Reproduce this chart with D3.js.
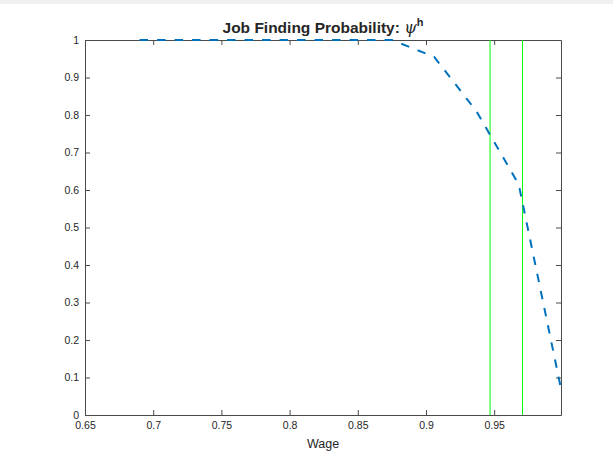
<!DOCTYPE html>
<html>
<head>
<meta charset="utf-8">
<script src="https://cdn.jsdelivr.net/npm/d3@7/dist/d3.min.js"></script>
<style>
  html, body { margin: 0; padding: 0; background: #ffffff; }
  svg { display: block; }
  text { font-family: "Liberation Sans", Arial, Helvetica, sans-serif; fill: #262626; }
</style>
</head>
<body>
<script>
// Wage grid and the job finding probability at each wage
const wage = [0.69, 0.721, 0.752, 0.783, 0.814, 0.845, 0.875, 0.906, 0.937, 0.968, 0.999];
const prob = [1, 1, 1, 1, 1, 1, 1, 0.955, 0.81, 0.615, 0.07];

// Reference wages marked with vertical lines
const markers = [0.947, 0.9708];

const xTicks = [0.65, 0.7, 0.75, 0.8, 0.85, 0.9, 0.95];
const yTicks = [0, 0.1, 0.2, 0.3, 0.4, 0.5, 0.6, 0.7, 0.8, 0.9, 1];

const W = 613, H = 464;
const box = { left: 85, right: 561, top: 40, bottom: 415 };

const svg = d3.select("body").append("svg").attr("width", W).attr("height", H);

// thin grey strip along the top of the window
svg.append("rect").attr("x", 0).attr("y", 0).attr("width", W).attr("height", 4).attr("fill", "#f0f0f0");

const x = d3.scaleLinear().domain([0.65, 0.999]).range([box.left, box.right]);
const y = d3.scaleLinear().domain([0, 1]).range([box.bottom, box.top]);

const axisColor = "#4a4a4a";
const tickLen = 5;

function styleAxis(g) {
  g.select(".domain").attr("stroke", axisColor).attr("stroke-width", 1);
  g.selectAll(".tick line").attr("stroke", axisColor).attr("stroke-width", 1);
  g.selectAll(".tick text").attr("fill", "#262626").attr("font-size", 10.5);
}

// bottom axis with labels, ticks pointing inward
const gx = svg.append("g").attr("transform", `translate(0,${box.bottom})`)
  .call(d3.axisBottom(x).tickValues(xTicks).tickFormat(d3.format("")).tickSizeInner(-tickLen).tickSizeOuter(0).tickPadding(8));
styleAxis(gx);
gx.selectAll(".tick text").attr("dy", "0.71em").attr("y", 7);

// top axis, ticks only
const gxt = svg.append("g").attr("transform", `translate(0,${box.top})`)
  .call(d3.axisTop(x).tickValues(xTicks).tickFormat("").tickSizeInner(-tickLen).tickSizeOuter(0));
styleAxis(gxt);

// left axis with labels
const gy = svg.append("g").attr("transform", `translate(${box.left},0)`)
  .call(d3.axisLeft(y).tickValues(yTicks).tickFormat(d3.format("")).tickSizeInner(-tickLen).tickSizeOuter(0).tickPadding(8));
styleAxis(gy);
gy.selectAll(".tick text").attr("x", -6);

// right axis, ticks only
const gyr = svg.append("g").attr("transform", `translate(${box.right},0)`)
  .call(d3.axisRight(y).tickValues(yTicks).tickFormat("").tickSizeInner(-tickLen).tickSizeOuter(0));
styleAxis(gyr);

// vertical marker lines
svg.append("g").selectAll("line").data(markers).join("line")
  .attr("x1", d => x(d)).attr("x2", d => x(d))
  .attr("y1", y(0)).attr("y2", y(1))
  .attr("stroke", "#00ff00").attr("stroke-width", 1);

// dashed probability curve
const line = d3.line().x((d, i) => x(wage[i])).y(d => y(d));
svg.append("defs").append("clipPath").attr("id", "plotclip")
  .append("rect").attr("x", box.left).attr("y", box.top - 2).attr("width", box.right - box.left).attr("height", box.bottom - box.top + 4);
svg.append("path").datum(prob)
  .attr("d", line)
  .attr("fill", "none")
  .attr("stroke", "#0072BD")
  .attr("stroke-width", 2)
  .attr("stroke-dasharray", "8.5,9")
  .attr("clip-path", "url(#plotclip)");

// title
const title = svg.append("text")
  .attr("x", (box.left + box.right) / 2).attr("y", 33)
  .attr("text-anchor", "middle").attr("font-size", 15.5).attr("font-weight", "bold");
title.append("tspan").text("Job Finding Probability: ");
title.append("tspan").attr("font-style", "italic").attr("font-weight", "normal")
  .attr("font-family", "'DejaVu Serif', serif").attr("font-size", 16).text("ψ");
title.append("tspan").attr("font-size", 11).attr("dy", -7).text("h");

// x label
svg.append("text")
  .attr("x", (box.left + box.right) / 2).attr("y", 448)
  .attr("text-anchor", "middle").attr("font-size", 12.5).text("Wage");
</script>
</body>
</html>
